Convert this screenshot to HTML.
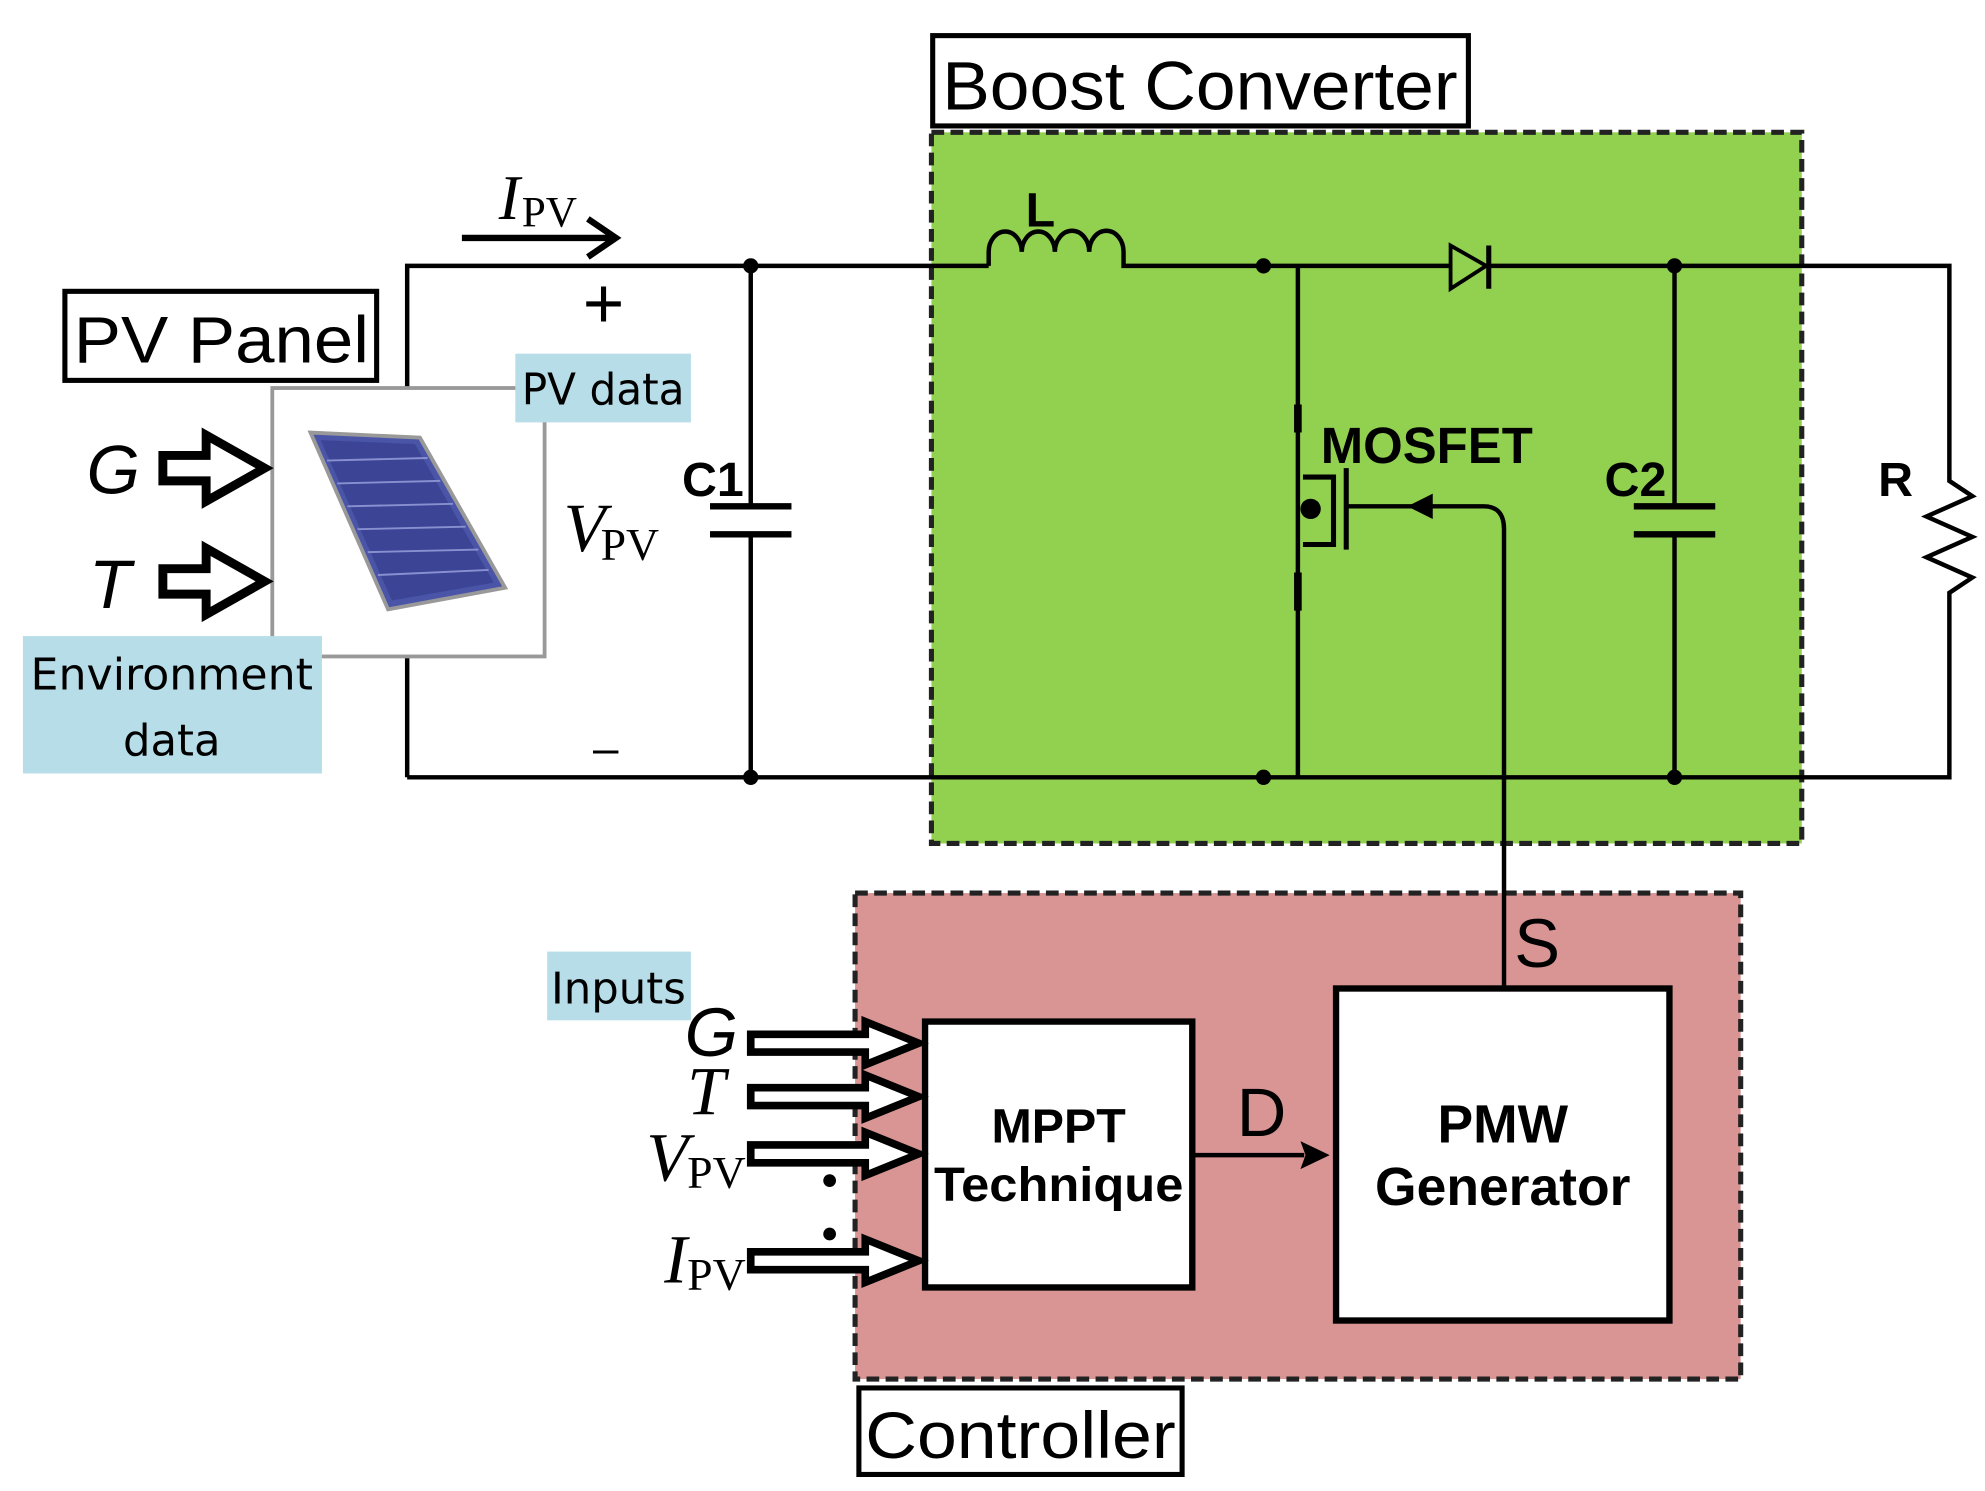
<!DOCTYPE html>
<html><head><meta charset="utf-8"><style>html,body{margin:0;padding:0;background:#fff}svg{display:block}</style></head>
<body>
<svg width="1985" height="1491" viewBox="0 0 1560 1172" preserveAspectRatio="none" xmlns="http://www.w3.org/2000/svg" font-family="Liberation Sans, sans-serif">
<rect x="0" y="0" width="1560" height="1172" fill="#fff"/>
<rect x="732" y="104" width="684" height="559" fill="#92d050" stroke="#222" stroke-width="4" stroke-dasharray="10,5"/>
<rect x="672" y="702" width="696" height="382" fill="#d99594" stroke="#222" stroke-width="4" stroke-dasharray="10,5"/>
<rect x="733" y="28" width="421" height="71" fill="#fff" stroke="#000" stroke-width="4"/>
<text x="943" y="86" font-size="54" text-anchor="middle" textLength="405" lengthAdjust="spacingAndGlyphs">Boost Converter</text>
<rect x="51" y="229" width="245" height="70" fill="#fff" stroke="#000" stroke-width="4"/>
<text x="174" y="285" font-size="52" text-anchor="middle" textLength="232" lengthAdjust="spacingAndGlyphs">PV Panel</text>
<rect x="675" y="1091" width="254" height="68" fill="#fff" stroke="#000" stroke-width="4"/>
<text x="802" y="1146" font-size="52" text-anchor="middle" textLength="244" lengthAdjust="spacingAndGlyphs">Controller</text>

<g stroke="#000" stroke-width="3.5" fill="none">
<path d="M320 611 L320 209 L777 209"/>
<path d="M777 209 L777 198 A13 16 0 0 1 803 198 A13 16 0 0 1 829 198 A13 16 0 0 1 856 198 A13 16 0 0 1 883 198 L883 209 L1140 209"/>
<path d="M1170 209 L1532 209 L1532 378 L1550 390 L1514 406 L1550 422 L1514 438 L1550 454 L1532 466 L1532 611 L320 611"/>
<path d="M590 209 L590 398 M590 420 L590 611"/>
<path d="M558 398 L622 398 M558 420 L622 420" stroke-width="5"/>
<path d="M1316 209 L1316 398 M1316 420 L1316 611"/>
<path d="M1284 398 L1348 398 M1284 420 L1348 420" stroke-width="5"/>
<path d="M1020 209 L1020 611"/>
<path d="M1020 318 L1020 340 M1020 450 L1020 480" stroke-width="6"/>
<path d="M1024 375 L1048 375 L1048 428 L1024 428" stroke-width="4"/>
<path d="M1058 368 L1058 432" stroke-width="4"/>
<path d="M1058 398 L1120 398"/>
<path d="M1120 398 L1166 398 Q1182 398 1182 416 L1182 775"/>
<path d="M363 187 L482 187 M462 172 L484 187 L462 202" stroke-width="5"/>
<path d="M937 908 L1025 908"/>
</g>
<polygon points="1140,193 1140,227 1168,209" fill="none" stroke="#000" stroke-width="3"/>
<line x1="1170" y1="193" x2="1170" y2="227" stroke="#000" stroke-width="4"/>
<polygon points="1106,398 1126,388 1126,408" fill="#000"/>
<polygon points="1045,908 1022,897 1026,908 1022,919" fill="#000"/>
<g fill="#000">
<circle cx="590" cy="209" r="6"/><circle cx="590" cy="611" r="6"/>
<circle cx="993" cy="209" r="6"/><circle cx="993" cy="611" r="6"/>
<circle cx="1316" cy="209" r="6"/><circle cx="1316" cy="611" r="6"/>
<circle cx="1030" cy="400" r="8"/>
</g>
<text x="806" y="178" font-size="38" font-weight="bold">L</text>
<text x="1038" y="364" font-size="40" font-weight="bold">MOSFET</text>
<text x="536" y="390" font-size="38" font-weight="bold">C1</text>
<text x="1261" y="390" font-size="38" font-weight="bold">C2</text>
<text x="1476" y="390" font-size="38" font-weight="bold">R</text>
<text x="392" y="172" font-size="50" font-style="italic" font-family="Liberation Serif, serif">I</text>
<text x="410" y="178" font-size="34" font-family="Liberation Serif, serif">PV</text>
<text x="458" y="258" font-size="56">+</text>
<text x="466" y="600" font-size="36">–</text>
<text x="443" y="433" font-size="54" font-style="italic" font-family="Liberation Serif, serif">V</text>
<text x="472" y="440" font-size="36" font-family="Liberation Serif, serif">PV</text>

<rect x="214" y="305" width="214" height="211" fill="#fff" stroke="#999" stroke-width="3"/>
<polygon points="244,340 330,344 397,462 305,479" fill="#4a55a8" stroke="#999" stroke-width="3"/>
<polygon points="252,346 326,349 388,458 308,472" fill="#3c4595"/>
<g stroke="#8890d0" stroke-width="1.5">
<line x1="257" y1="362" x2="336" y2="360"/><line x1="265" y1="380" x2="346" y2="378"/>
<line x1="273" y1="398" x2="356" y2="396"/><line x1="281" y1="416" x2="366" y2="414"/>
<line x1="289" y1="434" x2="376" y2="432"/><line x1="297" y1="452" x2="384" y2="448"/>
</g>
<rect x="405" y="278" width="138" height="54" fill="#b7dde8"/>
<text x="474" y="318" font-size="34" text-anchor="middle" font-family="DejaVu Sans, sans-serif" textLength="128" lengthAdjust="spacingAndGlyphs">PV data</text>
<rect x="18" y="500" width="235" height="108" fill="#b7dde8"/>
<text x="135" y="542" font-size="34" text-anchor="middle" font-family="DejaVu Sans, sans-serif" textLength="222" lengthAdjust="spacingAndGlyphs">Environment</text>
<text x="135" y="594" font-size="34" text-anchor="middle" font-family="DejaVu Sans, sans-serif">data</text>
<text x="68" y="388" font-size="54" font-style="italic">G</text>
<text x="70" y="478" font-size="54" font-style="italic">T</text>
<g fill="#fff" stroke="#000" stroke-width="7">
<polygon points="128,358 162,358 162,342 208,368 162,394 162,378 128,378"/>
<polygon points="128,447 162,447 162,431 208,457 162,483 162,467 128,467"/>
</g>

<rect x="727" y="803" width="210" height="209" fill="#fff" stroke="#000" stroke-width="5"/>
<text x="832" y="898" font-size="38" font-weight="bold" text-anchor="middle">MPPT</text>
<text x="832" y="944" font-size="38" font-weight="bold" text-anchor="middle" textLength="196" lengthAdjust="spacingAndGlyphs">Technique</text>
<rect x="1050" y="777" width="262" height="261" fill="#fff" stroke="#000" stroke-width="5"/>
<text x="1181" y="898" font-size="42" font-weight="bold" text-anchor="middle">PMW</text>
<text x="1181" y="947" font-size="42" font-weight="bold" text-anchor="middle">Generator</text>
<text x="1190" y="760" font-size="54">S</text>
<text x="972" y="893" font-size="54">D</text>
<rect x="430" y="748" width="113" height="54" fill="#b7dde8"/>
<text x="486" y="789" font-size="34" text-anchor="middle" font-family="DejaVu Sans, sans-serif" textLength="106" lengthAdjust="spacingAndGlyphs">Inputs</text>
<text x="538" y="830" font-size="54" font-style="italic">G</text>
<text x="540" y="876" font-size="54" font-style="italic" font-family="Liberation Serif, serif">T</text>
<text x="508" y="928" font-size="54" font-style="italic" font-family="Liberation Serif, serif">V</text>
<text x="540" y="934" font-size="36" font-family="Liberation Serif, serif">PV</text>
<text x="522" y="1008" font-size="54" font-style="italic" font-family="Liberation Serif, serif">I</text>
<text x="540" y="1014" font-size="36" font-family="Liberation Serif, serif">PV</text>
<g fill="#fff" stroke="#000" stroke-width="6">
<polygon points="590,813 680,813 680,803 722,820 680,837 680,827 590,827"/>
<polygon points="590,855 680,855 680,845 722,862 680,879 680,869 590,869"/>
<polygon points="590,900 680,900 680,890 722,907 680,924 680,914 590,914"/>
<polygon points="590,984 680,984 680,974 722,991 680,1008 680,998 590,998"/>
</g>
<circle cx="652" cy="928" r="5" fill="#000"/>
<circle cx="652" cy="970" r="5" fill="#000"/>
</svg>
</body></html>
